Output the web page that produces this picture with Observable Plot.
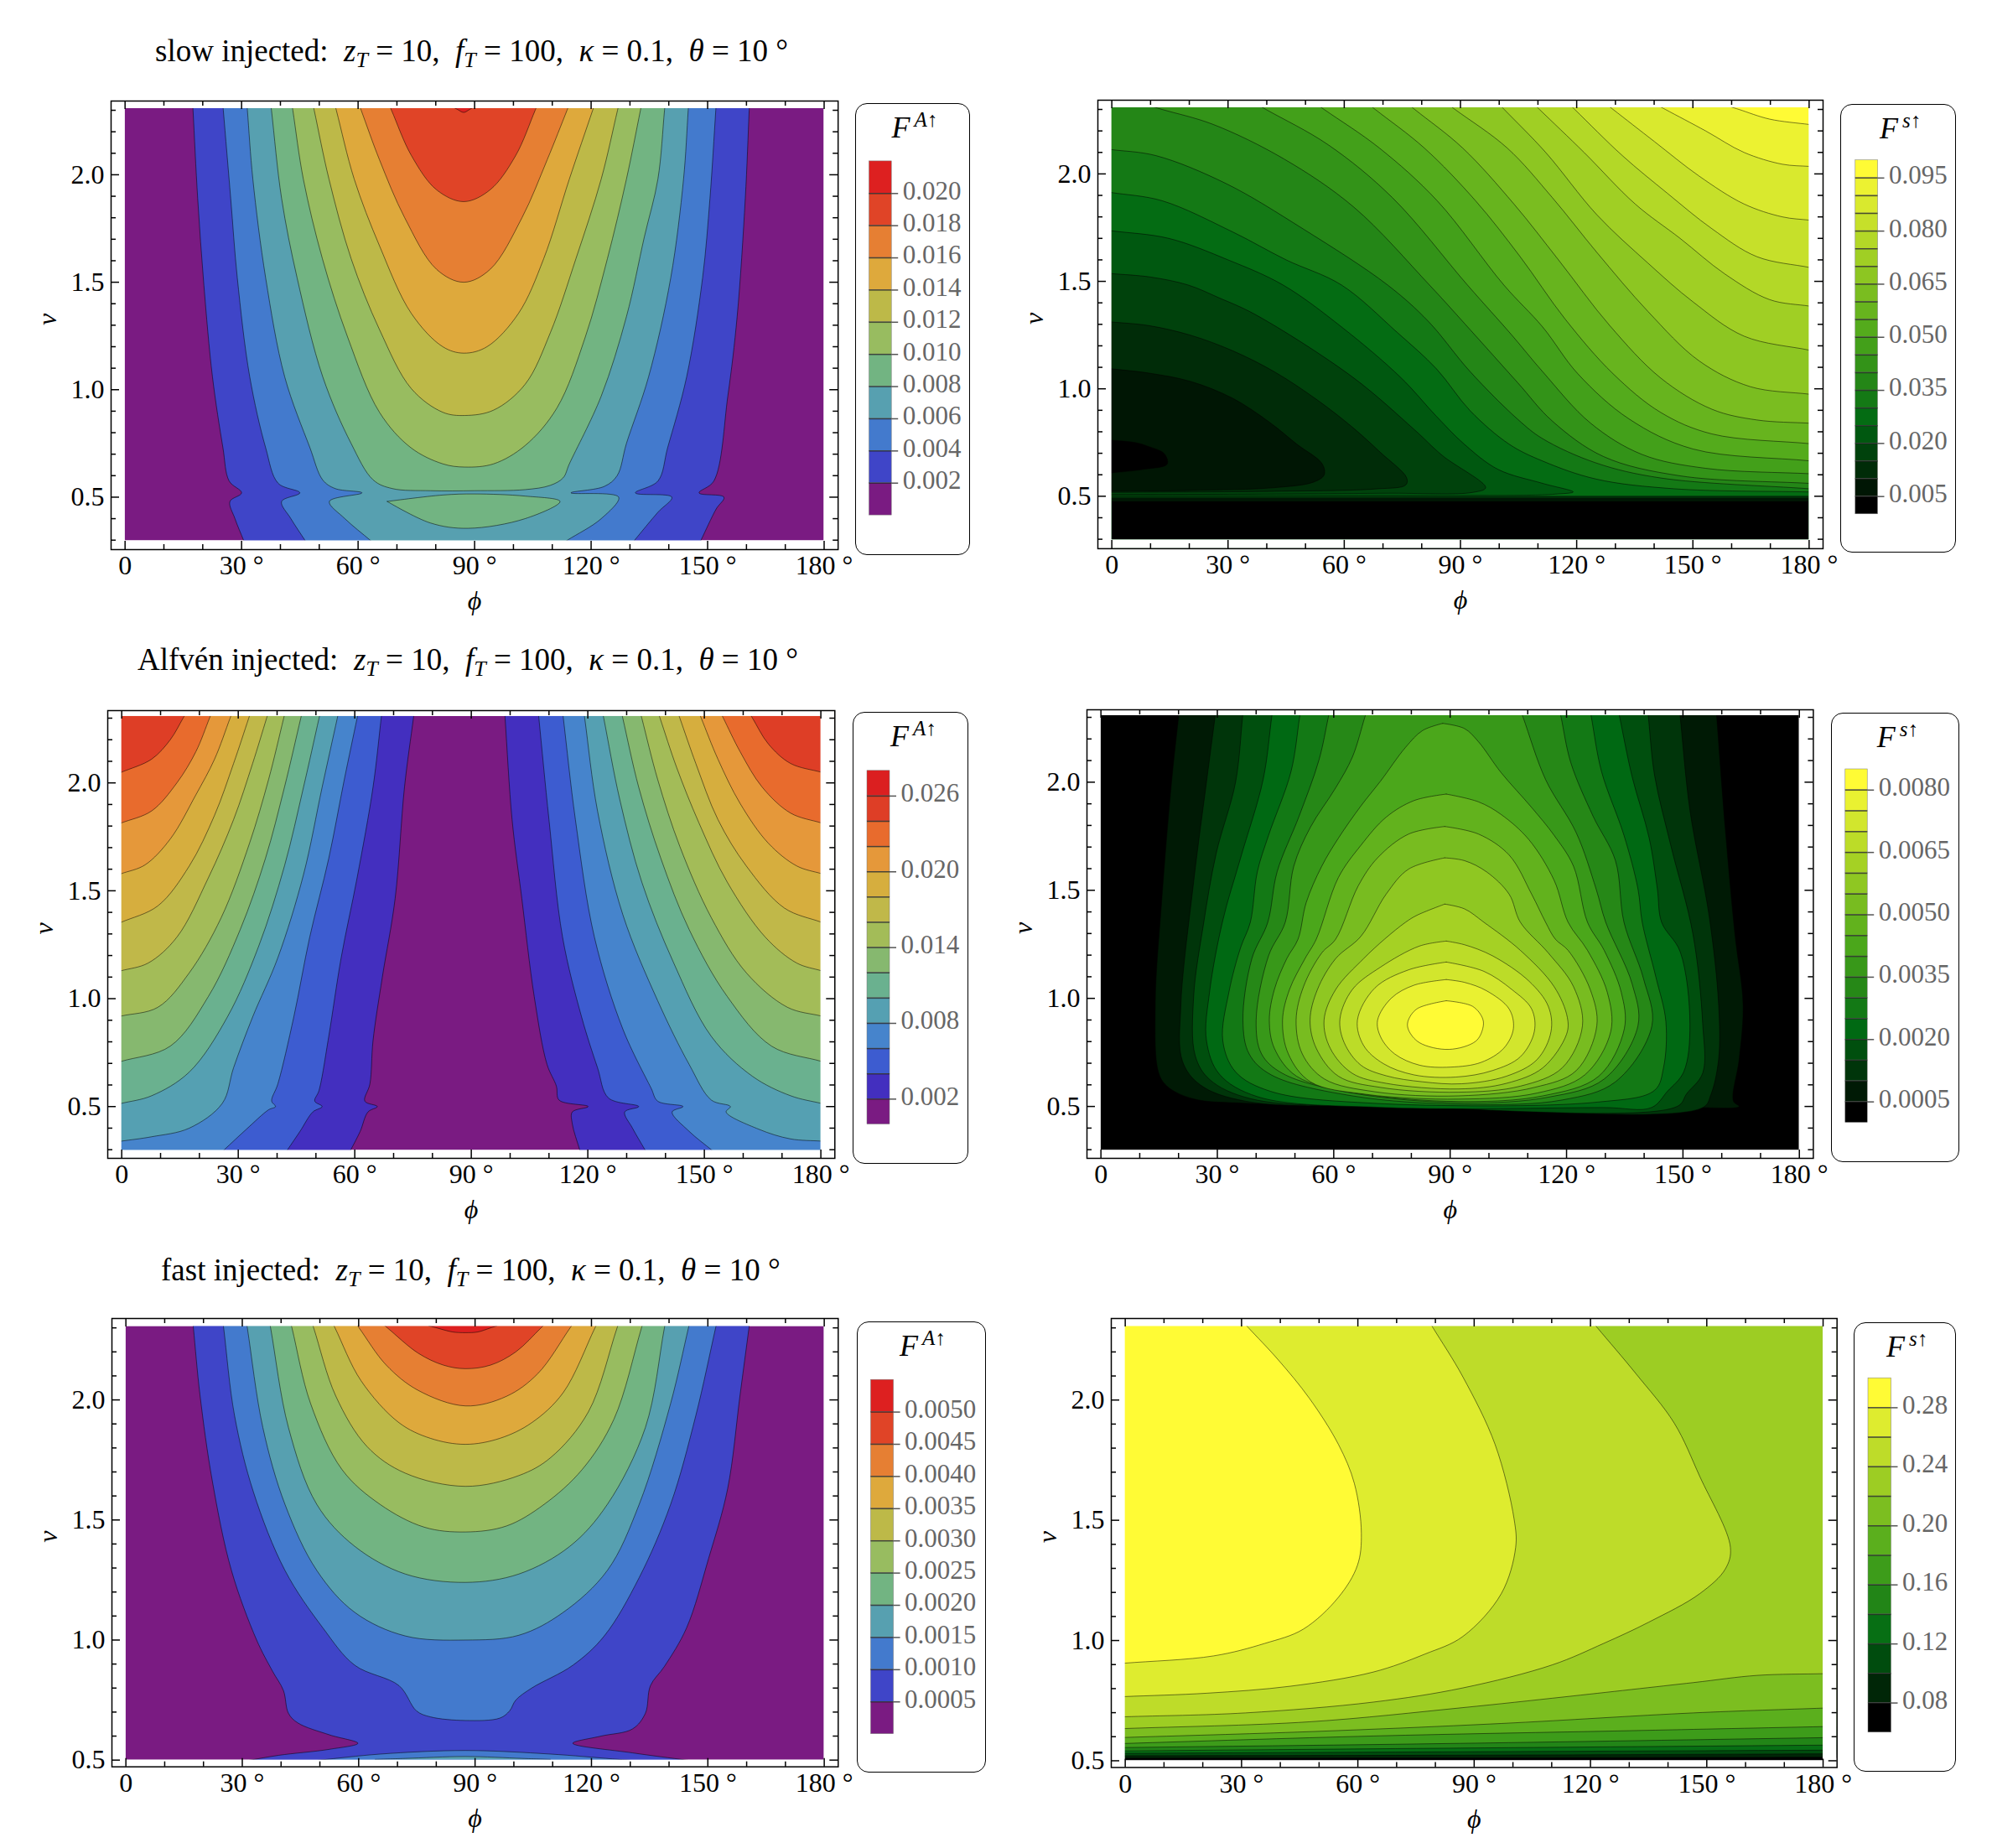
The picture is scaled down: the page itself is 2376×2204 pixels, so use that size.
<!DOCTYPE html>
<html>
<head>
<meta charset="utf-8">
<script src="https://cdn.jsdelivr.net/npm/d3@7"></script>
<script src="https://cdn.jsdelivr.net/npm/@observablehq/plot@0.6"></script>
<style>
  body { margin: 0; background: white; }
  #page { position: relative; width: 2376px; height: 2204px; overflow: hidden; font-family: "Liberation Serif", serif; color: black; }
  #page svg { position: absolute; background: transparent; max-width: none; }
  .title { position: absolute; white-space: pre; font-size: 37px; line-height: 44px; }
  .title sub { font-size: 26px; line-height: 0; vertical-align: -7px; }
  .box { position: absolute; box-sizing: border-box; border: 1.5px solid black; border-radius: 14px; }
  .ftitle { position: absolute; white-space: pre; font-size: 36px; line-height: 40px; font-style: italic; }
  .ftitle sup { font-size: 25px; line-height: 0; vertical-align: 13px; margin-left: 5px; }
  .ftitle sup span { font-style: normal; }
</style>
</head>
<body>
<div id="page"></div>
<script>
// corners far outside the plot, used to close the filled regions
const TL = [-30, 3], TR = [210, 3], BL = [-30, 0], BR = [210, 0];

const phiMajor = [0, 30, 60, 90, 120, 150, 180];
const phiMinor = [10, 20, 40, 50, 70, 80, 100, 110, 130, 140, 160, 170];
const nuMajor = [0.5, 1, 1.5, 2];
const nuMinor = [0.3, 0.4, 0.6, 0.7, 0.8, 0.9, 1.1, 1.2, 1.3, 1.4, 1.6, 1.7, 1.8, 1.9, 2.1, 2.2, 2.3];

const rainbow11 = ["#7A1B82", "#3F45C8", "#437ACD", "#57A0B0", "#72B482", "#98BC60", "#BDB948", "#DEA93C", "#E67F33", "#E04427", "#DD2020"];
const rainbow14 = ["#7A1B82", "#432FBF", "#3D5CD0", "#4684CC", "#55A0B2", "#6AB18F", "#86B86F", "#A3BC58", "#C0B849", "#D6AE3E", "#E5983A", "#E86B2D", "#DE3E26", "#DB1F20"];
const avocado = d3.piecewise(d3.interpolateRgb, ["#000000", "#006913", "#4BA71B", "#A5D124", "#FFFB35"]);

// ---- slow injected, F^A
const slowA_levels = [0.002, 0.004, 0.006, 0.008, 0.010, 0.012, 0.014, 0.016, 0.018, 0.020];
const slowA_labels = ["0.002", "0.004", "0.006", "0.008", "0.010", "0.012", "0.014", "0.016", "0.018", "0.020"];
const slowA_contours = [
  [[[17.2,2.5],[17.5,2.3],[18.7,1.89],[20.3,1.485],[22.5,1.06],[25.2,.73],[26.8,.575],[30,.52],[27,.48],[28.3,.4],[30.5,.3],[31.5,.15],[147.5,.15],[148.3,.3],[152.2,.445],[154.2,.5],[147.8,.52],[151.6,.575],[155.2,.97],[157.6,1.34],[159.7,1.89],[160.7,2.3],[161,2.5]]],
  [[[25.2,2.5],[25.3,2.3],[27.2,1.89],[28.9,1.52],[32.1,1.06],[36.2,.73],[39.4,.565],[45,.52],[40.3,.48],[42.7,.4],[46.3,.3],[47,.15],[130.5,.15],[131.2,.3],[137.2,.43],[140.8,.5],[131.4,.52],[137.2,.575],[139.7,.73],[144.6,1.06],[148.7,1.52],[150.6,1.89],[152.1,2.3],[152.3,2.5]]],
  [[[31.4,2.5],[31.5,2.3],[32.9,1.98],[36.2,1.52],[41.1,1.06],[47.6,.73],[50.9,.58],[54.1,.54],[61,.52],[52.6,.48],[56.6,.4],[63.1,.3],[64,.15],[113,.15],[113.9,.3],[122.6,.4],[127.1,.5],[114.8,.52],[123.4,.55],[126.7,.6],[129.1,.75],[134.8,1.06],[140.5,1.52],[143.8,1.98],[145,2.3],[145.2,2.5]]],
  [[[37.5,2.5],[37.7,2.3],[40.3,1.89],[44.3,1.52],[50.9,1.06],[58.2,.75],[63.9,.58],[68.8,.54],[78.6,.53],[90,.53],[103,.535],[109.5,.555],[112.8,.59],[114.4,.655],[122.6,.97],[129.1,1.34],[133.7,1.71],[137.2,1.98],[138.9,2.3],[139.2,2.5]],
   [[67.5,.48],[81.8,.51],[90,.515],[103,.505],[112,.48],[103,.4],[88.3,.355],[78.6,.38],[67.5,.48]]],
  [[[43,2.5],[43.2,2.3],[45.9,1.98],[50.8,1.61],[57.3,1.245],[65.5,.895],[73.6,.73],[81.8,.655],[87.5,.64],[94.9,.655],[103,.74],[111.2,.915],[118.5,1.245],[124.2,1.61],[129.1,1.98],[132.7,2.3],[133,2.5]]],
  [[[48.5,2.5],[48.7,2.3],[52.5,1.98],[58.2,1.61],[65.5,1.28],[73.7,1.005],[81.8,.895],[87.5,.88],[94.9,.905],[103,1.025],[109.5,1.265],[116.1,1.61],[122.6,1.98],[126.8,2.3],[127.2,2.5]]],
  [[[54,2.5],[54.4,2.3],[59,1.98],[65.5,1.67],[73.7,1.355],[81.8,1.2],[87.2,1.17],[93.2,1.2],[101.3,1.355],[107.8,1.61],[114.4,1.98],[120.4,2.3],[121,2.5]]],
  [[[60,2.5],[60.8,2.3],[65.5,2.07],[72,1.8],[80.2,1.56],[87.2,1.5],[94,1.56],[102.2,1.8],[108.7,2.07],[113.8,2.3],[114.5,2.5]]],
  [[[68,2.5],[68.6,2.3],[73.7,2.09],[80.2,1.93],[87.2,1.875],[94,1.93],[100.6,2.09],[105.6,2.3],[106.5,2.5]]],
  [[[85.5,2.5],[85.5,2.305],[87.2,2.29],[88.8,2.305],[89,2.5]]]
];

// ---- slow injected, F^s (painted from the high levels down, regions lie below the curves)
const slowS_levels = [0.005, 0.010, 0.015, 0.020, 0.025, 0.030, 0.035, 0.040, 0.045, 0.050, 0.055, 0.060, 0.065, 0.070, 0.075, 0.080, 0.085, 0.090, 0.095];
const slowS_labels = ["0.005", "", "", "0.020", "", "", "0.035", "", "", "0.050", "", "", "0.065", "", "", "0.080", "", "", "0.095"];
const slowS_floor = [[0.49, 0.5, 2], [0.477, 0.49, 1], [0.297, 0.477, 0]];
const slowS_contours = [
  [[[-15,.761],[0,.761],[6,.75],[9.6,.731],[13.5,.699],[14.3,.65],[8.1,.625],[0,.609],[-15,.609]]],
  [[[-15,1.093],[0,1.093],[9.6,1.073],[20.4,1.034],[31.2,.956],[40.6,.846],[47.8,.742],[54.3,.651],[54.8,.599],[52.1,.566],[42,.54],[20.4,.527],[0,.523],[-15,.523]]],
  [[[-15,1.311],[0,1.311],[9.6,1.294],[20.4,1.249],[31.2,1.177],[42,1.079],[52.9,.95],[62.2,.82],[69.4,.703],[76.1,.586],[75.9,.553],[68,.534],[42,.523],[0,.518],[-15,.518]]],
  [[[-15,1.536],[0,1.536],[10,1.52],[19.7,1.483],[27.6,1.424],[37,1.346],[62.2,1.054],[78.1,.81],[85.3,.69],[96.5,.54],[93.2,.518],[70.9,.514],[34.8,.51],[0,.508],[-15,.508]]],
  [[[-15,1.735],[0,1.735],[14.7,1.7],[30,1.6],[44.2,1.483],[59.3,1.288],[74.5,1.054],[83.8,.872],[91,.742],[99.7,.625],[111.2,.56],[119.1,.52],[114.5,.51],[107,.505],[67.5,.505],[0,.505],[-15,.505]]],
  [[[-15,1.913],[0,1.913],[13,1.875],[31.2,1.73],[45,1.6],[59.3,1.483],[73.7,1.262],[83.8,1.093],[92.5,.898],[102.6,.742],[111.2,.664],[125,.58],[145,.535],[180,.52],[195,.52],BR,BL]],
  [[[-15,2.113],[0,2.113],[11.4,2.085],[29.5,1.955],[49.3,1.745],[71.2,1.483],[81.7,1.314],[92.5,1.08],[104.8,.858],[111.2,.768],[125,.655],[141.7,.585],[180,.535],[195,.535],BR,BL]],
  [[[13,2.5],[13,2.3],[26.2,2.23],[44.4,2.07],[62.5,1.845],[82,1.483],[92.5,1.275],[104.8,1.028],[113.7,.85],[126.9,.685],[146.7,.595],[180,.56],[195,.56],BR,BL,TL]],
  [[[39.8,2.5],[39.8,2.3],[55.9,2.135],[72.4,1.89],[91.8,1.483],[103.3,1.249],[111.2,1.08],[123.6,.84],[136.8,.695],[153.3,.63],[180,.605],[195,.605],BR,BL,TL]],
  [[[54.8,2.5],[54.8,2.3],[69.1,2.12],[84,1.875],[101.2,1.483],[111.2,1.288],[120.3,1.07],[133.5,.86],[150,.72],[180,.665],[195,.665],BR,BL,TL]],
  [[[68,2.5],[68,2.3],[80.7,2.12],[93.9,1.875],[105.4,1.615],[117,1.325],[129.4,1.07],[141.7,.89],[154.9,.79],[180,.745],[195,.745],BR,BL,TL]],
  [[[78.2,2.5],[78.2,2.3],[90.6,2.12],[103.8,1.86],[115.3,1.6],[128.5,1.295],[141.7,1.05],[154.9,.905],[166.5,.855],[180,.84],[195,.84],BR,BL,TL]],
  [[[88.6,2.5],[88.6,2.3],[102.1,2.12],[113.7,1.89],[125.2,1.635],[138.4,1.36],[151.6,1.13],[164.8,1.01],[180,.975],[195,.975],BR,BL,TL]],
  [[[101.3,2.5],[101.3,2.3],[112,2.1],[125.2,1.81],[138.4,1.585],[150,1.405],[163.2,1.245],[180,1.18],[195,1.18],BR,BL,TL]],
  [[[110.4,2.5],[110.4,2.3],[121.9,2.1],[135.1,1.86],[146.7,1.7],[158.2,1.535],[169.8,1.415],[180,1.385],[195,1.385],BR,BL,TL]],
  [[[119.5,2.5],[119.5,2.3],[131.8,2.085],[143.4,1.91],[154.9,1.745],[166.5,1.615],[180,1.565],[195,1.565],BR,BL,TL]],
  [[[129.4,2.5],[129.4,2.3],[140.1,2.15],[151.6,1.99],[163.2,1.86],[173.1,1.8],[180,1.785],[195,1.785],BR,BL,TL]],
  [[[142.9,2.5],[142.9,2.3],[153.3,2.2],[163.2,2.1],[173.1,2.045],[180,2.035],[195,2.035],BR,BL,TL]],
  [[[161.9,2.5],[161.9,2.3],[169.8,2.255],[180,2.23],[195,2.23],BR,BL,TL]]
];

// ---- Alfven injected, F^A (two regions per level, left and right)
const alfvenA_levels = [0.002, 0.004, 0.006, 0.008, 0.010, 0.012, 0.014, 0.016, 0.018, 0.020, 0.022, 0.024, 0.026];
const alfvenA_labels = ["0.002", "", "", "0.008", "", "", "0.014", "", "", "0.020", "", "", "0.026"];
const alfvenA_contours = [
  [[[75.1,2.5],[75.1,2.3],[72.8,1.98],[70.4,1.465],[67.1,1.1],[64.7,.805],[63.9,.605],[62.6,.525],[65.8,.5],[63.4,.475],[61.4,.385],[59,.3],[58,.15],BL,TL],
   [[98.7,2.5],[98.7,2.3],[100.5,1.83],[103,1.465],[106.2,1.01],[109.5,.695],[111.9,.595],[112.6,.53],[120.1,.5],[116,.475],[116,.42],[117.9,.3],[118.5,.15],BR,TR]],
  [[[66.8,2.5],[66.8,2.3],[64.7,1.98],[60.6,1.56],[56.5,1.19],[53.3,.825],[50.8,.575],[49.7,.525],[51.6,.5],[49.2,.475],[45.9,.385],[42.7,.3],[41.5,.15],BL,TL],
   [[107.4,2.5],[107.4,2.3],[110,1.83],[113.5,1.285],[118.4,.915],[122.5,.68],[125.3,.54],[133.1,.5],[129.5,.475],[131.5,.4],[134.7,.3],[135.5,.15],BR,TR]],
  [[[60.6,2.5],[60.6,2.3],[57.3,2.015],[53.3,1.65],[48.4,1.285],[44.3,.915],[40.2,.605],[38.6,.525],[39.6,.5],[37.8,.485],[32.1,.395],[26.4,.3],[25,.15],BL,TL],
   [[113.7,2.5],[113.7,2.3],[116.8,1.83],[121.7,1.285],[129,.86],[136.3,.585],[138,.525],[144.5,.5],[141.7,.475],[146.1,.385],[151.8,.3],[153,.15],BR,TR]],
  [[[55.5,2.5],[55.5,2.3],[51.6,1.98],[46.8,1.575],[40.2,1.19],[33.7,.915],[28.8,.68],[25.9,.515],[17.4,.4],[7.7,.36],[0,.34],[-15,.34],TL],
   [[119.2,2.5],[119.2,2.3],[122.5,1.87],[129,1.39],[138,.99],[146.1,.695],[151.8,.53],[156.7,.5],[155.6,.475],[164,.395],[172.2,.35],[180,.34],[195,.34],TR]],
  [[[50.8,2.5],[50.8,2.3],[46.8,1.98],[41.9,1.615],[35.3,1.245],[27.2,.915],[17.4,.66],[7.7,.55],[0,.515],[-15,.515],TL],
   [[124.1,2.5],[124.1,2.3],[128.2,1.925],[133.9,1.54],[142,1.17],[151.8,.825],[162.4,.64],[172.2,.55],[180,.515],[195,.515],TR]],
  [[[46.1,2.5],[46.1,2.3],[41.9,1.98],[37,1.65],[30.5,1.32],[22.3,1.01],[12.5,.78],[0,.71],[-15,.71],TL],
   [[129,2.5],[129,2.3],[133.1,1.98],[138.8,1.65],[146.1,1.32],[155.9,1.01],[167.3,.78],[180,.71],[195,.71],TR]],
  [[[41.7,2.5],[41.7,2.3],[37.8,2.015],[32.9,1.72],[25.6,1.375],[17.4,1.12],[9.3,.96],[0,.92],[-15,.92],TL],
   [[133.9,2.5],[133.9,2.3],[138,2.015],[143.7,1.705],[151.8,1.375],[160.8,1.12],[171.4,.96],[180,.92],[195,.92],TR]],
  [[[37.3,2.5],[37.3,2.3],[33.7,2.09],[28.8,1.83],[22.3,1.56],[14.2,1.285],[6.8,1.165],[0,1.13],[-15,1.13],TL],
   [[138.6,2.5],[138.6,2.3],[142.9,2.07],[148.6,1.815],[155.9,1.54],[165.7,1.285],[173.8,1.165],[180,1.13],[195,1.13],TR]],
  [[[32.7,2.5],[32.7,2.3],[28.8,2.09],[23.9,1.85],[17.4,1.615],[9.3,1.43],[0,1.355],[-15,1.355],TL],
   [[143.7,2.5],[143.7,2.3],[147.8,2.09],[153.5,1.83],[160.8,1.615],[170.6,1.42],[180,1.355],[195,1.355],TR]],
  [[[27.9,2.5],[27.9,2.3],[23.9,2.11],[19.1,1.945],[12.5,1.74],[6,1.62],[0,1.58],[-15,1.58],TL],
   [[149.2,2.5],[149.2,2.3],[153.5,2.11],[159.2,1.905],[166.5,1.72],[173.8,1.615],[180,1.58],[195,1.58],TR]],
  [[[22.6,2.5],[22.6,2.3],[19.1,2.145],[14.2,2],[7.7,1.87],[0,1.815],[-15,1.815],TL],
   [[154.9,2.5],[154.9,2.3],[159.2,2.145],[164.9,1.98],[172.2,1.86],[180,1.815],[195,1.815],TR]],
  [[[15.8,2.5],[15.8,2.3],[12.5,2.2],[7.7,2.11],[0,2.05],[-15,2.05],TL],
   [[162.4,2.5],[162.4,2.3],[166.5,2.18],[172.2,2.09],[180,2.05],[195,2.05],TR]]
];

// ---- Alfven injected, F^s
const alfvenS_levels = [0.0005, 0.0010, 0.0015, 0.0020, 0.0025, 0.0030, 0.0035, 0.0040, 0.0045, 0.0050, 0.0055, 0.0060, 0.0065, 0.0070, 0.0075, 0.0080];
const alfvenS_labels = ["0.0005", "", "", "0.0020", "", "", "0.0035", "", "", "0.0050", "", "", "0.0065", "", "", "0.0080"];
const alfvenS_contours = [
  [[[20,2.5],[20,2.3],[18.2,2],[15.7,1.46],[14,.97],[14.9,.655],[17.3,.59],[23.9,.535],[37.1,.515],[78.4,.5],[119.6,.495],[152.6,.495],[164.5,.5],[163,.525],[164.5,.72],[165.5,.97],[163.4,1.295],[160.9,1.785],[158.7,2.3],[158.7,2.5]]],
  [[[29.4,2.5],[29.4,2.3],[27.2,2],[23.9,1.54],[20.6,.97],[21,.71],[25.6,.6],[37.1,.525],[78.4,.5],[155.1,.495],[157.2,.555],[159.2,.72],[159.2,.97],[156.8,1.375],[151.8,1.87],[149.3,2.3],[149.3,2.5]]],
  [[[36.5,2.5],[36.5,2.3],[34.7,2],[29.7,1.67],[26.4,1.34],[23.9,1.01],[24.3,.735],[28,.625],[38.8,.535],[76.7,.5],[148.5,.5],[151,.56],[155.1,.655],[155.1,.88],[152.6,1.295],[146.9,1.705],[142.7,2.03],[141.1,2.3],[141.1,2.5]]],
  [[[44,2.5],[44,2.3],[41.8,2.012],[36,1.65],[31.4,1.36],[28,1.03],[27.2,.805],[30.5,.65],[40.4,.545],[73.4,.495],[129.5,.495],[141.9,.495],[146,.57],[150.2,.66],[151.8,.88],[149.3,1.215],[144.5,1.352],[143.4,1.507],[141.3,1.741],[136.9,2.025],[133.7,2.3],[133.7,2.5]]],
  [[[51.2,2.5],[51.2,2.3],[49,2.05],[43.2,1.754],[40.3,1.585],[38.5,1.352],[36,1.235],[33,1.03],[31.4,.805],[34.7,.66],[43.7,.57],[70.1,.515],[127.9,.52],[142.7,.575],[145,.68],[145.6,.892],[143,1.1],[139.5,1.352],[138.4,1.507],[134.8,1.754],[129,2.05],[126.4,2.3],[126.4,2.5]]],
  [[[58.6,2.5],[58.6,2.3],[56.2,2.103],[51.1,1.844],[45.4,1.585],[43,1.352],[38.9,1.184],[36.6,.899],[38.2,.743],[43.9,.646],[64.8,.549],[93.7,.51],[118.9,.53],[132.6,.614],[142,.873],[139.8,1.093],[134.8,1.352],[132.6,1.637],[126.8,1.844],[121.1,2.09],[118.6,2.3],[118.6,2.5]]],
  [[[68,2.5],[68,2.3],[64.8,2.116],[60.5,1.974],[54,1.792],[49.7,1.611],[47.5,1.352],[43.2,1.197],[40,.899],[41.4,.743],[46.8,.653],[64.8,.562],[93.7,.517],[115.3,.543],[129.7,.627],[138.4,.873],[136.9,1.067],[130.1,1.352],[127.6,1.507],[122.5,1.766],[114.6,2.012],[108.8,2.3],[108.8,2.5]]],
  [[[88.1,2.272],[82.9,2.239],[78.5,2.161],[72.1,2.006],[67,1.89],[61.2,1.741],[56.9,1.611],[52.9,1.443],[50.8,1.274],[47.9,1.184],[44.7,1.041],[43.4,.899],[44.7,.769],[50.4,.64],[66.3,.562],[92.2,.523],[113.9,.549],[128.3,.64],[134.9,.86],[134.1,1.028],[129.7,1.222],[125.4,1.352],[121.8,1.611],[116.8,1.754],[111,1.883],[103.1,2.045],[97.3,2.187],[93.7,2.248],[88.1,2.272]]],
  [[[89,1.945],[80.7,1.915],[73.5,1.838],[67,1.708],[61.2,1.559],[55.5,1.274],[52.6,1.184],[48.6,1.041],[46.8,.899],[48.3,.743],[54,.614],[68.4,.556],[92.2,.534],[112.4,.562],[124.7,.646],[131.4,.847],[130.5,1.028],[125.4,1.222],[120.4,1.352],[116.8,1.546],[110.3,1.734],[103.1,1.851],[97.3,1.909],[89,1.945]]],
  [[[88.6,1.795],[79.3,1.76],[71.3,1.65],[66.3,1.52],[60.5,1.274],[56.9,1.21],[52.2,1.054],[50.3,.899],[51.9,.743],[57.6,.627],[70.6,.568],[92.2,.549],[111.7,.588],[122.5,.666],[127.8,.873],[126.1,1.041],[120.4,1.222],[117.1,1.274],[114.6,1.352],[111,1.482],[105.2,1.663],[97.3,1.76],[88.6,1.795]]],
  [[[88.6,1.65],[79.3,1.598],[73.5,1.482],[67,1.287],[60.5,1.184],[55.8,1.041],[53.9,.899],[55.5,.769],[61.2,.64],[72.1,.588],[92.2,.566],[108.1,.594],[118.9,.679],[124.1,.873],[121.8,1.054],[115.3,1.21],[108.1,1.352],[105.2,1.482],[99.4,1.585],[93.7,1.637],[88.6,1.65]]],
  [[[88.6,1.436],[81.4,1.384],[78.5,1.352],[73.1,1.274],[67.7,1.184],[60.5,1.041],[57.5,.899],[59.1,.769],[64.8,.653],[73.5,.607],[92.2,.581],[104.5,.607],[113.9,.679],[120,.834],[120.2,.912],[116.8,1.054],[108.1,1.222],[98.7,1.352],[93.7,1.414],[88.6,1.436]]],
  [[[89,1.265],[82.1,1.242],[72.1,1.145],[64.8,1.041],[61.6,.905],[62.7,.795],[67,.691],[73.5,.642],[82.9,.614],[93,.605],[104.5,.64],[112.4,.717],[116,.847],[115.3,.963],[110.3,1.08],[100.9,1.197],[93.7,1.248],[89,1.265]]],
  [[[89,1.168],[79.3,1.132],[70.6,1.048],[66.1,.899],[67.7,.782],[72.8,.698],[80.7,.646],[91.5,.636],[100.9,.666],[108.1,.73],[111.7,.847],[111,.951],[105.9,1.041],[98.7,1.125],[89,1.168]]],
  [[[89,1.087],[80.7,1.061],[74.9,1.002],[71.3,.899],[72.1,.821],[75.7,.743],[82.1,.691],[90.1,.682],[98,.704],[103.8,.769],[106.3,.86],[105.2,.951],[99.4,1.035],[93.7,1.074],[89,1.087]]],
  [[[89,.989],[81.4,.951],[79.1,.892],[79.3,.853],[82.1,.795],[89.7,.764],[96.6,.802],[98.4,.86],[98.4,.905],[95.8,.963],[89,.989]]]
];

// ---- fast injected, F^A
const fastA_levels = [0.0005, 0.0010, 0.0015, 0.0020, 0.0025, 0.0030, 0.0035, 0.0040, 0.0045, 0.0050];
const fastA_labels = ["0.0005", "0.0010", "0.0015", "0.0020", "0.0025", "0.0030", "0.0035", "0.0040", "0.0045", "0.0050"];
const fastA_contours = [
  [[[17.2,2.5],[17.4,2.3],[19.1,2.02],[22.3,1.66],[27.2,1.29],[33.7,1],[37.8,.87],[40.6,.79],[41.9,.695],[44.3,.655],[52.5,.605],[59.8,.57],[52.5,.545],[39.4,.52],[32.1,.5],[31,.4],[146,.4],[144.5,.5],[130.6,.53],[115.2,.57],[122.5,.6],[130.6,.63],[133.9,.695],[135.2,.81],[138.8,.89],[144.5,1.05],[150.2,1.34],[155.1,1.63],[158.3,2.02],[160.6,2.3],[160.8,2.5]]],
  [[[25,2.5],[25.2,2.3],[28,1.935],[32.9,1.615],[41,1.29],[50.8,1.05],[59,.895],[70.4,.81],[74.9,.705],[78.5,.68],[87.5,.665],[96.4,.675],[98.9,.705],[100.5,.75],[104.6,.8],[115.2,.895],[123.3,1.017],[132.3,1.26],[140.4,1.565],[146.9,1.935],[152,2.3],[152.4,2.5]],
   [[50,.4],[50,.5],[65.5,.525],[87.5,.54],[109.5,.525],[125.4,.505],[126,.4]]],
  [[[31,2.5],[31.3,2.3],[35.3,1.885],[41,1.565],[49.2,1.29],[59,1.115],[72,1.017],[87.5,1],[101.3,1.02],[112.7,1.115],[124.1,1.29],[132.3,1.565],[140.4,1.985],[145,2.3],[145.5,2.5]],
   [[72,.4],[72,.507],[87.5,.515],[102.1,.507],[102.1,.4]]],
  [[[37,2.5],[37.3,2.3],[41.9,1.885],[49.2,1.565],[59,1.39],[72,1.275],[87.5,1.24],[101.3,1.275],[114.4,1.39],[124.1,1.565],[133.9,1.885],[138.8,2.3],[139.2,2.5]]],
  [[[42.5,2.5],[42.8,2.3],[47.6,1.985],[55.7,1.71],[65.5,1.565],[76.9,1.47],[87.5,1.45],[98.1,1.475],[107.8,1.565],[117.6,1.71],[125.8,1.92],[132.9,2.3],[133.5,2.5]]],
  [[[48,2.5],[48.4,2.3],[54.1,2.016],[62.2,1.805],[72,1.695],[87.5,1.64],[101.3,1.685],[109.5,1.76],[119.2,1.95],[126.6,2.3],[127.2,2.5]]],
  [[[53.5,2.5],[53.9,2.3],[60.6,2.08],[70.4,1.905],[78.5,1.84],[87.5,1.815],[96.4,1.84],[104.6,1.905],[112.7,2.03],[120.9,2.3],[121.5,2.5]]],
  [[[59.5,2.5],[60.1,2.3],[67.1,2.145],[75.3,2.04],[87.5,1.975],[98.1,2.015],[106.2,2.11],[114.5,2.3],[115.2,2.5]]],
  [[[66.5,2.5],[67.4,2.3],[75.3,2.195],[81.8,2.145],[87.5,2.13],[94,2.145],[100.5,2.2],[107,2.3],[108,2.5]]],
  [[[79.5,2.5],[80.1,2.3],[84.2,2.283],[87.5,2.28],[90.7,2.283],[94,2.3],[94.5,2.5]]]
];

// ---- fast injected, F^s
const fastS_levels = [0.08, 0.10, 0.12, 0.14, 0.16, 0.18, 0.20, 0.22, 0.24, 0.26, 0.28];
const fastS_labels = ["0.08", "", "0.12", "", "0.16", "", "0.20", "", "0.24", "", "0.28"];
const fastS_contours = [
  [[[-15,.511],[0,.511],[80.4,.512],[180,.515],[195,.515],TR,TL]],
  [[[-15,.521],[0,.521],[80.4,.523],[180,.529],[195,.529],TR,TL]],
  [[[-15,.531],[0,.531],[80.4,.537],[180,.544],[195,.544],TR,TL]],
  [[[-15,.541],[0,.541],[80.4,.552],[180,.565],[195,.565],TR,TL]],
  [[[-15,.555],[0,.555],[80.4,.571],[180,.596],[195,.596],TR,TL]],
  [[[-15,.572],[0,.572],[64,.603],[130,.625],[180,.642],[195,.642],TR,TL]],
  [[[-15,.597],[0,.597],[47.5,.621],[97,.655],[146.5,.699],[180,.719],[195,.719],TR,TL]],
  [[[-15,.634],[0,.634],[47.5,.662],[87.1,.721],[113.5,.766],[146.5,.825],[163,.855],[180,.862],[195,.862],TR,TL]],
  [[[121.8,2.5],[121.8,2.3],[131.7,2.11],[141.6,1.904],[148.2,1.682],[156.1,1.387],[154.8,1.298],[148.2,1.195],[135,1.076],[123.4,.988],[110.2,.899],[87.1,.803],[64,.744],[31,.699],[0,.683],[-15,.683],TL]],
  [[[79.4,2.5],[79.4,2.3],[87.1,2.096],[95.4,1.815],[100.3,1.505],[100.7,1.387],[97,1.195],[87.1,1.017],[77.2,.943],[64,.869],[42.6,.81],[21.1,.781],[0,.767],[-15,.767],TL]],
  [[[31.8,2.5],[31.8,2.3],[39.3,2.17],[47.5,2.007],[55,1.815],[59.1,1.653],[60.9,1.446],[59.9,1.313],[55,1.18],[45.9,1.047],[36,.988],[22.8,.936],[0,.906],[-15,.906],TL]]
];

const panels = [
  { frame: [132.3, 119.5, 999.5, 654.5], ny: [0.297, 2.308], yd: [0.256, 2.343], levels: slowA_levels, labels: slowA_labels, contours: slowA_contours, colors: rainbow11,
    box: [1019.5, 122.5, 1157, 662], swatch: [1036, 191.4, 1062.7, 613.6], sup: "A", ftx: 44 },
  { frame: [1308.9, 119.4, 2173.9, 654.3], ny: [0.297, 2.308], yd: [0.256, 2.343], levels: slowS_levels, labels: slowS_labels, contours: slowS_contours, colors: d3.quantize(avocado, 20), descending: true, floor: slowS_floor,
    box: [2195, 123.6, 2333, 659], swatch: [2212.8, 190.3, 2239.5, 612.4], sup: "s", ftx: 47 },
  { frame: [128.2, 846.6, 995.5, 1380.6], ny: [0.297, 2.308], yd: [0.26, 2.335], levels: alfvenA_levels, labels: alfvenA_labels, contours: alfvenA_contours, colors: rainbow14,
    box: [1017, 848.5, 1154.6, 1387.6], swatch: [1034, 918.3, 1061, 1340], sup: "A", ftx: 45 },
  { frame: [1296, 846, 2162.4, 1381], ny: [0.297, 2.308], yd: [0.26, 2.335], levels: alfvenS_levels, labels: alfvenS_labels, contours: alfvenS_contours, colors: d3.quantize(avocado, 17),
    box: [2183.8, 850, 2337, 1386], swatch: [2200.6, 917, 2227, 1338.5], sup: "s", ftx: 55 },
  { frame: [132.7, 1572.3, 999, 2107], ny: [0.5, 2.306], yd: [0.472, 2.339], levels: fastA_levels, labels: fastA_labels, contours: fastA_contours, colors: rainbow11,
    box: [1022, 1575.6, 1175.7, 2114], swatch: [1038.5, 1644.8, 1065.6, 2067.3], sup: "A", ftx: 51 },
  { frame: [1325, 1572, 2190.7, 2107.5], ny: [0.5, 2.306], yd: [0.472, 2.339], levels: fastS_levels, labels: fastS_labels, contours: fastS_contours, colors: d3.quantize(avocado, 12),
    box: [2211, 1576.8, 2333, 2113.5], swatch: [2228, 1643, 2255.5, 2065.6], sup: "s", ftx: 39 }
];

const titles = [
  { x: 185, y: 61, name: "slow injected:" },
  { x: 164, y: 787, name: "Alfvén injected:" },
  { x: 192, y: 1515, name: "fast injected:" }
];

const page = document.querySelector("#page");
const xd = [-3.6, 183.6];

// points typed outside the plot only close a region: aim them along the curve
// so that it runs straight out of the plot
function aimEnds(path, ny) {
  const inside = p => p[0] >= 0 && p[0] <= 180 && p[1] >= ny[0] - 0.004 && p[1] <= ny[1];
  const out = (a, b) => [a[0] + (a[0] - b[0]) * 0.5, a[1] + (a[1] - b[1]) * 0.5];
  return path.map((p, i) => {
    if (inside(p)) return p;
    if (i >= 2 && inside(path[i - 1]) && inside(path[i - 2])) return out(path[i - 1], path[i - 2]);
    if (i + 2 < path.length && inside(path[i + 1]) && inside(path[i + 2])) return out(path[i + 1], path[i + 2]);
    return p;
  });
}

function drawPanel(p) {
  const [l, t, r, b] = p.frame;
  const [ml, mr, mt, mb] = [125, 50, 10, 90];
  const [x0, x1] = xd;
  const [y0, y1] = p.yd;
  const perX = (x1 - x0) / (r - l);
  const perY = (y1 - y0) / (b - t);
  const n = p.levels.length;

  // filled regions, low to high (or high to low for the descending panel)
  const order = d3.range(n);
  if (p.descending) order.reverse();
  const regions = order.flatMap(i => p.contours[i] ? p.contours[i].map(path =>
    Plot.line(aimEnds(path, p.ny), {
      x: d => d[0], y: d => d[1],
      fill: p.colors[p.descending ? i : i + 1],
      stroke: "#000", strokeOpacity: 0.5, strokeWidth: 1,
      curve: "catmull-rom", clip: true
    })) : []);

  const masks = [
    { x1: x0, x2: 0, y1: y0, y2: y1 },
    { x1: 180, x2: x1, y1: y0, y2: y1 },
    { x1: x0, x2: x1, y1: y0, y2: p.ny[0] },
    { x1: x0, x2: x1, y1: p.ny[1], y2: y1 }
  ];

  const xTick = (vals, len) => [
    Plot.ruleX(vals, { y1: () => y0, y2: () => y0 + len * perY, stroke: "black", strokeWidth: 1.5 }),
    Plot.ruleX(vals, { y1: () => y1, y2: () => y1 - len * perY, stroke: "black", strokeWidth: 1.5 })
  ];
  const yTick = (vals, len) => [
    Plot.ruleY(vals, { x1: () => x0, x2: () => x0 + len * perX, stroke: "black", strokeWidth: 1.5 }),
    Plot.ruleY(vals, { x1: () => x1, x2: () => x1 - len * perX, stroke: "black", strokeWidth: 1.5 })
  ];

  const chart = Plot.plot({
    width: r - l + ml + mr,
    height: b - t + mt + mb,
    marginLeft: ml, marginRight: mr, marginTop: mt, marginBottom: mb,
    style: { fontFamily: "Liberation Serif", fontSize: "32px", background: "transparent" },
    x: { domain: xd },
    y: { domain: p.yd },
    marks: [
      Plot.rect([0], { x1: () => 0, x2: () => 180, y1: () => p.ny[0], y2: () => p.ny[1], fill: p.colors[p.descending ? n : 0] }),
      ...regions,
      ...(p.floor ? [Plot.rect(p.floor, { x1: () => 0, x2: () => 180, y1: d => d[0], y2: d => d[1], fill: d => p.colors[d[2]] })] : []),
      Plot.rect(masks, { x1: "x1", x2: "x2", y1: "y1", y2: "y2", fill: "white" }),
      ...xTick(phiMajor, 10), ...xTick(phiMinor, 6),
      ...yTick(nuMajor, 10), ...yTick(nuMinor.filter(v => v > y0), 6),
      Plot.frame({ stroke: "black", strokeWidth: 1.5 }),
      Plot.axisX({ ticks: phiMajor, tickSize: 0, tickPadding: 7, tickFormat: d => d ? d + " °" : "0", label: null, fontSize: 32 }),
      Plot.axisY({ ticks: nuMajor, tickSize: 0, tickPadding: 8, tickFormat: d => d.toFixed(1), label: null, fontSize: 32 }),
      Plot.text(["ϕ"], { frameAnchor: "bottom", dy: 72, fontStyle: "italic", fontSize: 32 }),
      Plot.text(["ν"], { frameAnchor: "left", dx: -76, rotate: -90, fontStyle: "italic", fontSize: 32 })
    ]
  });
  chart.style.left = (l - ml) + "px";
  chart.style.top = (t - mt) + "px";
  page.append(chart);

  // legend box
  const [bl, bt, br, bb] = p.box;
  const [sl, st, sr, sb] = p.swatch;
  const box = document.createElement("div");
  box.className = "box";
  box.style.cssText = `left:${bl}px;top:${bt}px;width:${br - bl}px;height:${bb - bt}px`;
  page.append(box);

  const step = p.levels[1] - p.levels[0];
  const lo = p.levels[0] - step;
  const edges = [lo, ...p.levels, p.levels[n - 1] + step];
  const bands = p.colors.map((c, i) => ({ lo: edges[i], hi: edges[i + 1], c }));
  const labelled = p.levels.map((v, i) => ({ v, s: p.labels[i] })).filter(d => d.s);
  const per = 1 / (sr - sl);

  const legend = Plot.plot({
    width: br - bl, height: bb - bt,
    marginLeft: sl - bl, marginRight: br - sr, marginTop: st - bt, marginBottom: bb - sb,
    style: { fontFamily: "Liberation Serif", fontSize: "31px", background: "transparent" },
    x: { domain: [0, 1], axis: null },
    y: { domain: [lo, edges[n + 1]], axis: null },
    color: { type: "identity" },
    marks: [
      Plot.rect(bands, { x1: () => 0, x2: () => 1, y1: "lo", y2: "hi", fill: "c", stroke: "#777", strokeWidth: 0.5 }),
      Plot.ruleY(p.levels, { x1: () => 0, x2: () => 1, stroke: "#222", strokeOpacity: 0.7, strokeWidth: 1.5 }),
      Plot.ruleY(labelled, { y: "v", x1: () => 1, x2: () => 1 + 8 * per, stroke: "#555", strokeWidth: 1.5 }),
      Plot.text(labelled, { y: "v", x: () => 1, dx: 13, dy: -3, text: "s", textAnchor: "start", fill: "#666", fontSize: 31 })
    ]
  });
  legend.style.left = bl + "px";
  legend.style.top = bt + "px";
  page.append(legend);

  const ft = document.createElement("div");
  ft.className = "ftitle";
  ft.style.cssText = `left:${bl + p.ftx}px;top:${bt + 9}px`;
  ft.innerHTML = `F<sup>${p.sup}<span>↑</span></sup>`;
  page.append(ft);
}

panels.forEach(drawPanel);

titles.forEach(t => {
  const d = document.createElement("div");
  d.className = "title";
  d.style.left = t.x + "px";
  d.style.top = (t.y - 22) + "px";
  d.innerHTML = `${t.name}  <i>z<sub>T</sub></i> = 10,  <i>f<sub>T</sub></i> = 100,  <i>κ</i> = 0.1,  <i>θ</i> = 10 °`;
  page.append(d);
});
</script>
</body>
</html>
